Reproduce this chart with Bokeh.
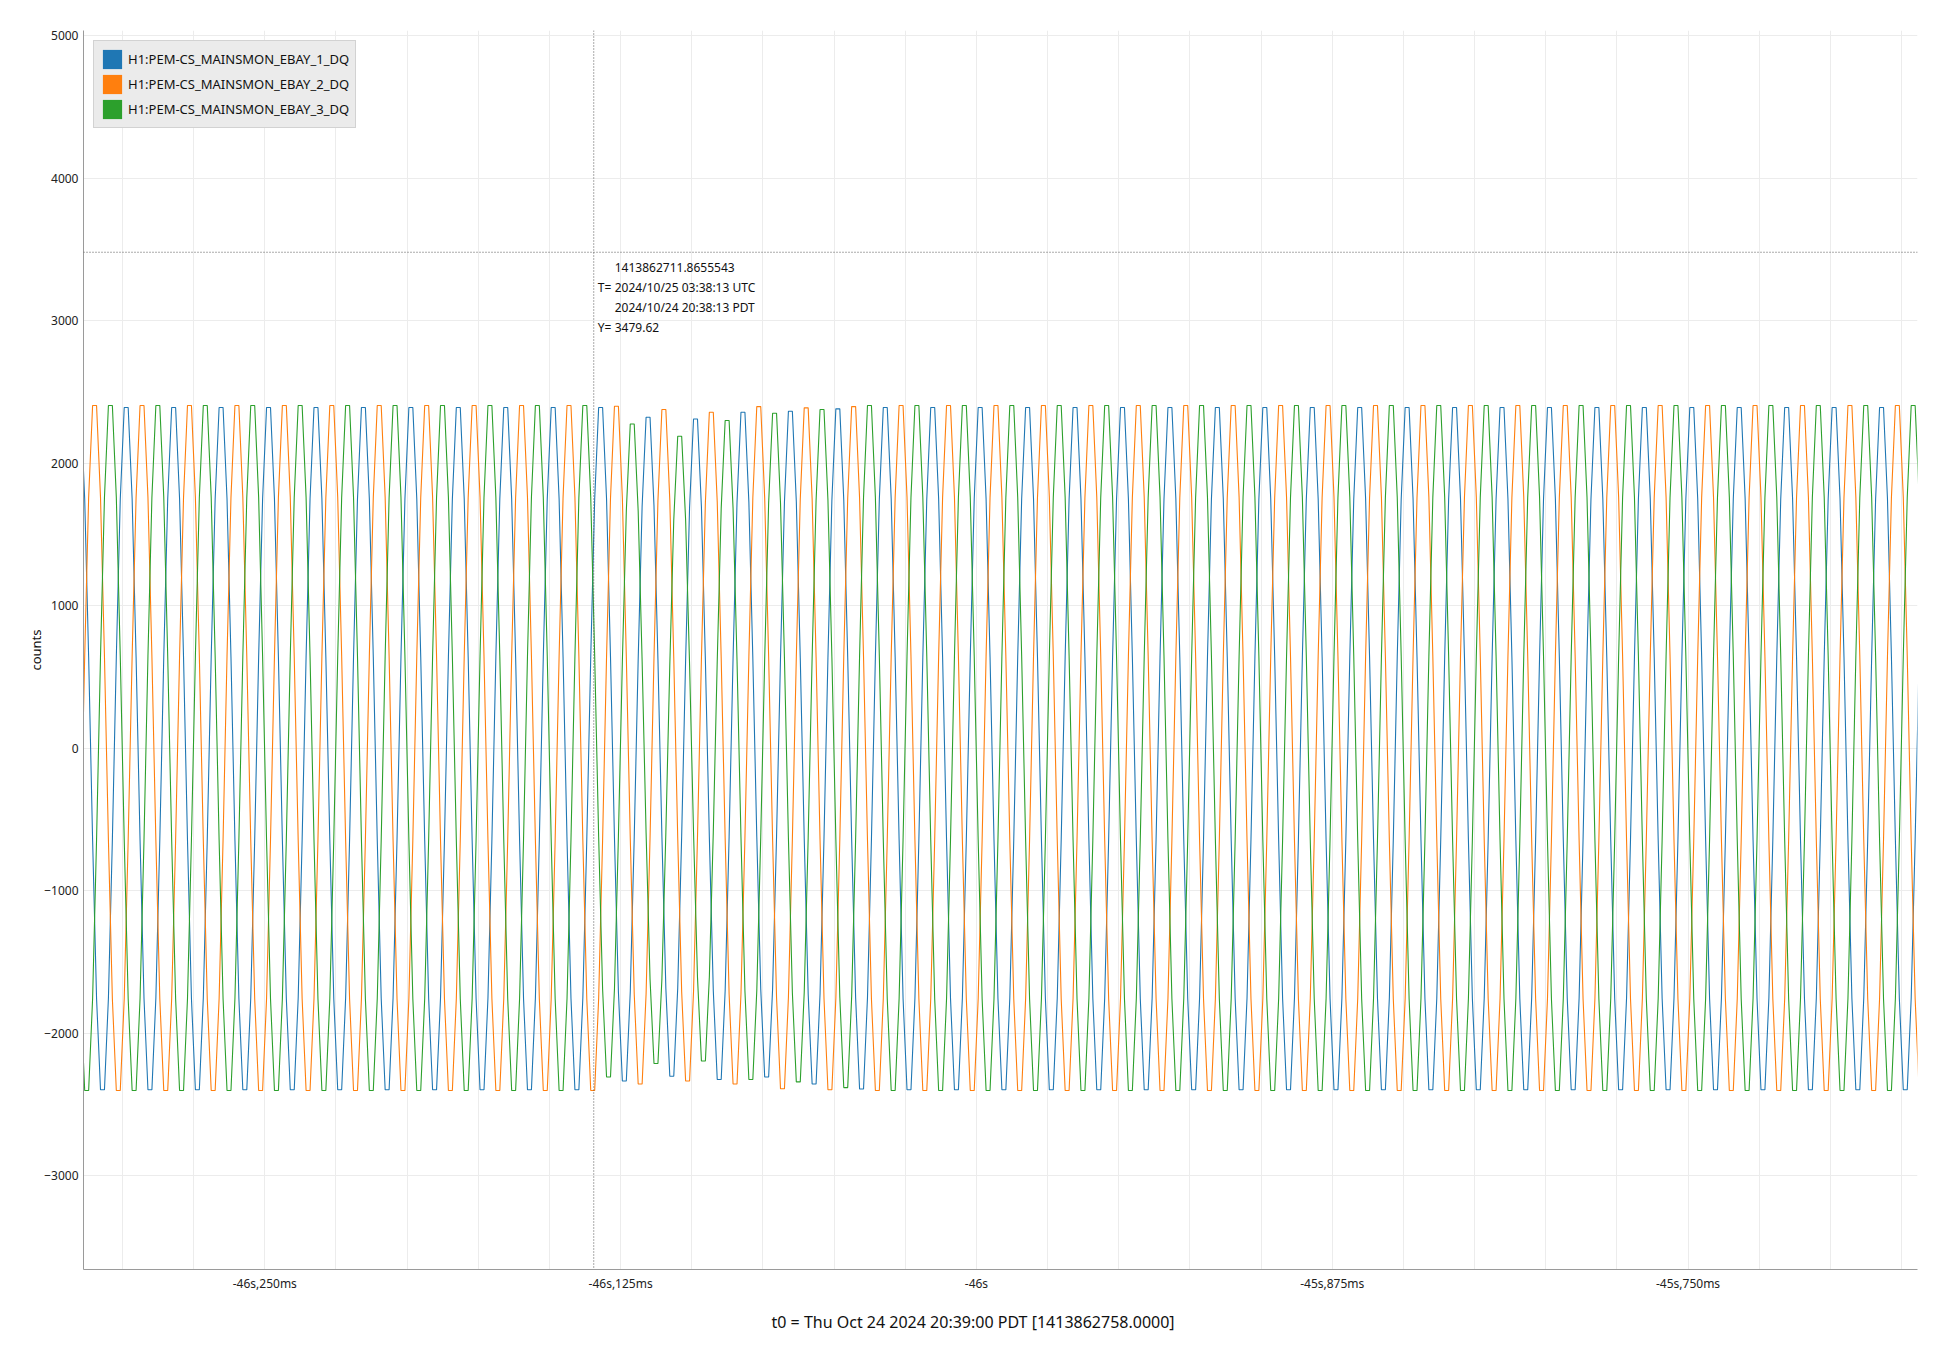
import numpy as np
from bokeh.plotting import figure
from bokeh.models import (Range1d, FixedTicker, Span, Label, Legend, LegendItem,
                          ColumnDataSource, Title)
from bokeh.embed import file_html
from bokeh.resources import INLINE

# ---------------------------------------------------------------- data
CHANNELS = ["H1:PEM-CS_MAINSMON_EBAY_1_DQ",
            "H1:PEM-CS_MAINSMON_EBAY_2_DQ",
            "H1:PEM-CS_MAINSMON_EBAY_3_DQ"]
COLORS = ["#1f77b4", "#ff7f0e", "#2ca02c"]

# time of first sample, seconds relative to t0, and sample rate (Hz)
T_START = -46.31467
SAMPLE_RATE = 720.0

# counts (12 samples per 60 Hz cycle)
EBAY_1 = [  # blue
    2390, 1749, 641, -642, -1753, -2395, -2395, -1753, -642, 641, 1749, 2390,
    2390, 1749, 641, -642, -1753, -2395, -2395, -1753, -642, 641, 1749, 2390,
    2390, 1749, 641, -642, -1753, -2395, -2395, -1753, -642, 641, 1749, 2390,
    2390, 1749, 641, -642, -1753, -2395, -2395, -1753, -642, 641, 1749, 2390,
    2390, 1749, 641, -642, -1753, -2395, -2395, -1753, -642, 641, 1749, 2390,
    2390, 1749, 641, -642, -1753, -2395, -2395, -1753, -642, 641, 1749, 2390,
    2390, 1749, 641, -642, -1753, -2395, -2395, -1753, -642, 641, 1749, 2390,
    2390, 1749, 641, -642, -1753, -2395, -2395, -1753, -642, 641, 1749, 2390,
    2390, 1749, 641, -642, -1753, -2395, -2395, -1753, -642, 641, 1749, 2390,
    2390, 1749, 641, -642, -1753, -2395, -2395, -1753, -642, 641, 1749, 2390,
    2390, 1749, 641, -642, -1753, -2395, -2395, -1753, -642, 641, 1749, 2390,
    2390, 1749, 641, -626, -1708, -2334, -2334, -1708, -626, 622, 1700, 2322,
    2322, 1700, 622, -616, -1684, -2300, -2300, -1684, -616, 619, 1691, 2310,
    2310, 1691, 619, -623, -1700, -2323, -2323, -1700, -623, 632, 1725, 2357,
    2357, 1725, 632, -618, -1688, -2306, -2306, -1688, -618, 634, 1730, 2364,
    2364, 1730, 634, -631, -1724, -2355, -2355, -1724, -631, 638, 1743, 2381,
    2381, 1743, 638, -641, -1749, -2390, -2390, -1749, -641, 641, 1749, 2390,
    2390, 1749, 641, -642, -1753, -2395, -2395, -1753, -642, 641, 1749, 2390,
    2390, 1749, 641, -642, -1753, -2395, -2395, -1753, -642, 641, 1749, 2390,
    2390, 1749, 641, -642, -1753, -2395, -2395, -1753, -642, 641, 1749, 2390,
    2390, 1749, 641, -642, -1753, -2395, -2395, -1753, -642, 641, 1749, 2390,
    2390, 1749, 641, -642, -1753, -2395, -2395, -1753, -642, 641, 1749, 2390,
    2390, 1749, 641, -642, -1753, -2395, -2395, -1753, -642, 641, 1749, 2390,
    2390, 1749, 641, -642, -1753, -2395, -2395, -1753, -642, 641, 1749, 2390,
    2390, 1749, 641, -642, -1753, -2395, -2395, -1753, -642, 641, 1749, 2390,
    2390, 1749, 641, -642, -1753, -2395, -2395, -1753, -642, 641, 1749, 2390,
    2390, 1749, 641, -642, -1753, -2395, -2395, -1753, -642, 641, 1749, 2390,
    2390, 1749, 641, -642, -1753, -2395, -2395, -1753, -642, 641, 1749, 2390,
    2390, 1749, 641, -642, -1753, -2395, -2395, -1753, -642, 641, 1749, 2390,
    2390, 1749, 641, -642, -1753, -2395, -2395, -1753, -642, 641, 1749, 2390,
    2390, 1749, 641, -642, -1753, -2395, -2395, -1753, -642, 641, 1749, 2390,
    2390, 1749, 641, -642, -1753, -2395, -2395, -1753, -642, 641, 1749, 2390,
    2390, 1749, 641, -642, -1753, -2395, -2395, -1753, -642, 641, 1749, 2390,
    2390, 1749, 641, -642, -1753, -2395, -2395, -1753, -642, 641, 1749, 2390,
    2390, 1749, 641, -642, -1753, -2395, -2395, -1753, -642, 641, 1749, 2390,
    2390, 1749, 641, -642, -1753, -2395, -2395, -1753, -642, 641, 1749, 2390,
    2390, 1749, 641, -642, -1753, -2395, -2395, -1753, -642, 641, 1749, 2390,
    2390, 1749, 641, -642, -1753, -2395, -2395, -1753, -642, 641, 1749, 2390,
    2390, 1749, 641, -642, -1753, -2395, -2395, -1753, -642, 641,
]
EBAY_2 = [  # orange
    -643, 645, 1760, 2405, 2405, 1760, 645, -643, -1757, -2400, -2400, -1757,
    -643, 645, 1760, 2405, 2405, 1760, 645, -643, -1757, -2400, -2400, -1757,
    -643, 645, 1760, 2405, 2405, 1760, 645, -643, -1757, -2400, -2400, -1757,
    -643, 645, 1760, 2405, 2405, 1760, 645, -643, -1757, -2400, -2400, -1757,
    -643, 645, 1760, 2405, 2405, 1760, 645, -643, -1757, -2400, -2400, -1757,
    -643, 645, 1760, 2405, 2405, 1760, 645, -643, -1757, -2400, -2400, -1757,
    -643, 645, 1760, 2405, 2405, 1760, 645, -643, -1757, -2400, -2400, -1757,
    -643, 645, 1760, 2405, 2405, 1760, 645, -643, -1757, -2400, -2400, -1757,
    -643, 645, 1760, 2405, 2405, 1760, 645, -643, -1757, -2400, -2400, -1757,
    -643, 645, 1760, 2405, 2405, 1760, 645, -643, -1757, -2400, -2400, -1757,
    -643, 645, 1760, 2405, 2405, 1760, 645, -643, -1757, -2400, -2400, -1757,
    -643, 643, 1756, 2399, 2399, 1756, 643, -631, -1724, -2355, -2355, -1724,
    -631, 637, 1739, 2376, 2376, 1739, 637, -626, -1708, -2334, -2334, -1708,
    -626, 632, 1725, 2357, 2357, 1725, 632, -631, -1724, -2355, -2355, -1724,
    -631, 642, 1755, 2397, 2397, 1755, 642, -640, -1748, -2388, -2388, -1748,
    -640, 640, 1748, 2388, 2388, 1748, 640, -642, -1753, -2395, -2395, -1753,
    -642, 642, 1755, 2397, 2397, 1755, 642, -643, -1757, -2400, -2400, -1757,
    -643, 645, 1760, 2405, 2405, 1760, 645, -643, -1757, -2400, -2400, -1757,
    -643, 645, 1760, 2405, 2405, 1760, 645, -643, -1757, -2400, -2400, -1757,
    -643, 645, 1760, 2405, 2405, 1760, 645, -643, -1757, -2400, -2400, -1757,
    -643, 645, 1760, 2405, 2405, 1760, 645, -643, -1757, -2400, -2400, -1757,
    -643, 645, 1760, 2405, 2405, 1760, 645, -643, -1757, -2400, -2400, -1757,
    -643, 645, 1760, 2405, 2405, 1760, 645, -643, -1757, -2400, -2400, -1757,
    -643, 645, 1760, 2405, 2405, 1760, 645, -643, -1757, -2400, -2400, -1757,
    -643, 645, 1760, 2405, 2405, 1760, 645, -643, -1757, -2400, -2400, -1757,
    -643, 645, 1760, 2405, 2405, 1760, 645, -643, -1757, -2400, -2400, -1757,
    -643, 645, 1760, 2405, 2405, 1760, 645, -643, -1757, -2400, -2400, -1757,
    -643, 645, 1760, 2405, 2405, 1760, 645, -643, -1757, -2400, -2400, -1757,
    -643, 645, 1760, 2405, 2405, 1760, 645, -643, -1757, -2400, -2400, -1757,
    -643, 645, 1760, 2405, 2405, 1760, 645, -643, -1757, -2400, -2400, -1757,
    -643, 645, 1760, 2405, 2405, 1760, 645, -643, -1757, -2400, -2400, -1757,
    -643, 645, 1760, 2405, 2405, 1760, 645, -643, -1757, -2400, -2400, -1757,
    -643, 645, 1760, 2405, 2405, 1760, 645, -643, -1757, -2400, -2400, -1757,
    -643, 645, 1760, 2405, 2405, 1760, 645, -643, -1757, -2400, -2400, -1757,
    -643, 645, 1760, 2405, 2405, 1760, 645, -643, -1757, -2400, -2400, -1757,
    -643, 645, 1760, 2405, 2405, 1760, 645, -643, -1757, -2400, -2400, -1757,
    -643, 645, 1760, 2405, 2405, 1760, 645, -643, -1757, -2400, -2400, -1757,
    -643, 645, 1760, 2405, 2405, 1760, 645, -643, -1757, -2400, -2400, -1757,
    -643, 645, 1760, 2405, 2405, 1760, 645, -643, -1757, -2400,
]
EBAY_3 = [  # green
    -1757, -2400, -2400, -1757, -643, 645, 1760, 2405, 2405, 1760, 645, -643,
    -1757, -2400, -2400, -1757, -643, 645, 1760, 2405, 2405, 1760, 645, -643,
    -1757, -2400, -2400, -1757, -643, 645, 1760, 2405, 2405, 1760, 645, -643,
    -1757, -2400, -2400, -1757, -643, 645, 1760, 2405, 2405, 1760, 645, -643,
    -1757, -2400, -2400, -1757, -643, 645, 1760, 2405, 2405, 1760, 645, -643,
    -1757, -2400, -2400, -1757, -643, 645, 1760, 2405, 2405, 1760, 645, -643,
    -1757, -2400, -2400, -1757, -643, 645, 1760, 2405, 2405, 1760, 645, -643,
    -1757, -2400, -2400, -1757, -643, 645, 1760, 2405, 2405, 1760, 645, -643,
    -1757, -2400, -2400, -1757, -643, 645, 1760, 2405, 2405, 1760, 645, -643,
    -1757, -2400, -2400, -1757, -643, 645, 1760, 2405, 2405, 1760, 645, -643,
    -1757, -2400, -2400, -1757, -643, 645, 1760, 2405, 2405, 1760, 645, -618,
    -1688, -2306, -2306, -1688, -618, 610, 1665, 2275, 2275, 1665, 610, -593,
    -1618, -2211, -2211, -1618, -593, 587, 1602, 2189, 2189, 1602, 587, -588,
    -1605, -2193, -2193, -1605, -588, 616, 1683, 2299, 2299, 1683, 616, -623,
    -1700, -2323, -2323, -1700, -623, 630, 1720, 2350, 2350, 1720, 630, -627,
    -1713, -2340, -2340, -1713, -627, 637, 1739, 2376, 2376, 1739, 637, -638,
    -1742, -2380, -2380, -1742, -638, 645, 1760, 2405, 2405, 1760, 645, -643,
    -1757, -2400, -2400, -1757, -643, 645, 1760, 2405, 2405, 1760, 645, -643,
    -1757, -2400, -2400, -1757, -643, 645, 1760, 2405, 2405, 1760, 645, -643,
    -1757, -2400, -2400, -1757, -643, 645, 1760, 2405, 2405, 1760, 645, -643,
    -1757, -2400, -2400, -1757, -643, 645, 1760, 2405, 2405, 1760, 645, -643,
    -1757, -2400, -2400, -1757, -643, 645, 1760, 2405, 2405, 1760, 645, -643,
    -1757, -2400, -2400, -1757, -643, 645, 1760, 2405, 2405, 1760, 645, -643,
    -1757, -2400, -2400, -1757, -643, 645, 1760, 2405, 2405, 1760, 645, -643,
    -1757, -2400, -2400, -1757, -643, 645, 1760, 2405, 2405, 1760, 645, -643,
    -1757, -2400, -2400, -1757, -643, 645, 1760, 2405, 2405, 1760, 645, -643,
    -1757, -2400, -2400, -1757, -643, 645, 1760, 2405, 2405, 1760, 645, -643,
    -1757, -2400, -2400, -1757, -643, 645, 1760, 2405, 2405, 1760, 645, -643,
    -1757, -2400, -2400, -1757, -643, 645, 1760, 2405, 2405, 1760, 645, -643,
    -1757, -2400, -2400, -1757, -643, 645, 1760, 2405, 2405, 1760, 645, -643,
    -1757, -2400, -2400, -1757, -643, 645, 1760, 2405, 2405, 1760, 645, -643,
    -1757, -2400, -2400, -1757, -643, 645, 1760, 2405, 2405, 1760, 645, -643,
    -1757, -2400, -2400, -1757, -643, 645, 1760, 2405, 2405, 1760, 645, -643,
    -1757, -2400, -2400, -1757, -643, 645, 1760, 2405, 2405, 1760, 645, -643,
    -1757, -2400, -2400, -1757, -643, 645, 1760, 2405, 2405, 1760, 645, -643,
    -1757, -2400, -2400, -1757, -643, 645, 1760, 2405, 2405, 1760, 645, -643,
    -1757, -2400, -2400, -1757, -643, 645, 1760, 2405, 2405, 1760, 645, -643,
    -1757, -2400, -2400, -1757, -643, 645, 1760, 2405, 2405, 1760, 645, -643,
    -1757, -2400, -2400, -1757, -643, 645, 1760, 2405, 2405, 1760,
]

# axis ranges / ticks
X_MIN, X_MAX = -46.3137, -45.6694
Y_MIN, Y_MAX = -3656, 5035
X_TICKS = [-46.25, -46.125, -46.0, -45.875, -45.75]
X_TICK_LABELS = ["-46s,250ms", "-46s,125ms", "-46s", "-45s,875ms", "-45s,750ms"]
X_GRID = [-46.300, -46.275, -46.250, -46.225, -46.200, -46.175, -46.150,
          -46.125, -46.100, -46.075, -46.050, -46.025, -46.000, -45.975,
          -45.950, -45.925, -45.900, -45.875, -45.850, -45.825, -45.800,
          -45.775, -45.750, -45.725, -45.700, -45.675]
Y_TICKS = [-3000, -2000, -1000, 0, 1000, 2000, 3000, 4000, 5000]
X_LABEL = "t0 = Thu Oct 24 2024 20:39:00 PDT [1413862758.0000]"
Y_LABEL = "counts"

# cursor read-out
CURSOR_X = -46.1344457
CURSOR_Y = 3479.62
CURSOR_GPS = "1413862711.8655543"
CURSOR_UTC = "2024/10/25 03:38:13 UTC"
CURSOR_PDT = "2024/10/24 20:38:13 PDT"

FONT = "Noto Sans"

# ---------------------------------------------------------------- figure
p = figure(width=1929, height=1347,
           x_range=Range1d(X_MIN, X_MAX), y_range=Range1d(Y_MIN, Y_MAX),
           output_backend="svg", toolbar_location=None,
           min_border_left=83, min_border_right=12,
           min_border_top=30, min_border_bottom=78)
p.outline_line_color = None
p.background_fill_color = "white"
p.border_fill_color = "white"

t = T_START + np.arange(len(EBAY_1)) / SAMPLE_RATE
series = [EBAY_1, EBAY_2, EBAY_3]
for vals, col in zip(series, COLORS):
    src = ColumnDataSource(dict(t=t, v=np.array(vals, dtype=float)))
    p.line("t", "v", source=src, line_color=col, line_width=1.1)

# axes
for ax in (p.xaxis[0], p.yaxis[0]):
    ax.axis_line_color = "#9a9a9a"
    ax.major_tick_out = 0
    ax.major_tick_in = 0
    ax.minor_tick_out = 0
    ax.minor_tick_in = 0
    ax.major_label_text_font = FONT
    ax.major_label_text_font_size = "12px"
    ax.major_label_text_color = "#222222"
    ax.major_label_standoff = 5
    ax.axis_label_text_font = FONT
    ax.axis_label_text_font_style = "normal"
    ax.axis_label_text_color = "#111111"

p.xaxis.ticker = FixedTicker(ticks=X_TICKS)
p.xaxis.major_label_overrides = {k: v for k, v in zip(X_TICKS, X_TICK_LABELS)}

p.yaxis.ticker = FixedTicker(ticks=Y_TICKS)
p.yaxis.axis_label = Y_LABEL
p.yaxis.axis_label_text_font_size = "13px"
p.yaxis.axis_label_standoff = -4

p.xgrid.ticker = FixedTicker(ticks=X_GRID)
p.xgrid.grid_line_color = "#ececec"
p.ygrid.ticker = FixedTicker(ticks=Y_TICKS)
p.ygrid.grid_line_color = "#ececec"

# x-axis caption, sitting a little left of the frame centre as in the original
p.add_layout(Title(text=X_LABEL, align="left", offset=688, standoff=28,
                   text_font=FONT, text_font_size="16px",
                   text_font_style="normal", text_color="#111111"), "below")

# cursor lines
p.add_layout(Span(location=CURSOR_X, dimension="height", line_color="#555555",
                  line_width=1, line_dash="1 2"))
p.add_layout(Span(location=CURSOR_Y, dimension="width", line_color="#555555",
                  line_width=1, line_dash="1 2"))

read_out = [("", CURSOR_GPS), ("T=", CURSOR_UTC), ("", CURSOR_PDT),
            ("Y=", f"{CURSOR_Y:.2f}")]
for i, (pre, txt) in enumerate(read_out):
    dy = -15.5 - 20 * i
    if pre:
        p.add_layout(Label(x=CURSOR_X, y=CURSOR_Y, x_offset=4, y_offset=dy,
                           text=pre, text_font=FONT, text_font_size="12px",
                           text_baseline="middle", text_color="#111111"))
    p.add_layout(Label(x=CURSOR_X, y=CURSOR_Y, x_offset=21, y_offset=dy,
                       text=txt, text_font=FONT, text_font_size="12px",
                       text_baseline="middle", text_color="#111111"))

# legend with filled square swatches (renderers hold no drawable data)
items = []
for name, col in zip(CHANNELS, COLORS):
    r = p.quad(left=[np.nan], right=[np.nan], top=[np.nan], bottom=[np.nan],
               fill_color=col, line_color=None)
    items.append(LegendItem(label=name, renderers=[r]))
legend = Legend(items=items, location="top_left")
legend.margin = 10
legend.padding = 6
legend.spacing = 1
legend.glyph_width = 24
legend.glyph_height = 24
legend.label_standoff = 4
legend.label_text_font = FONT
legend.label_text_font_size = "13px"
legend.label_text_color = "#111111"
legend.background_fill_color = "#ebebeb"
legend.background_fill_alpha = 1.0
legend.border_line_color = "#b9b9b9"
legend.border_line_width = 1
p.add_layout(legend)

open("out.html", "w").write(file_html(p, INLINE))
